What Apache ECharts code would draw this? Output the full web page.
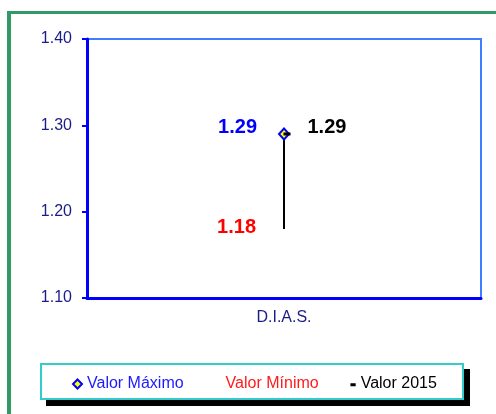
<!DOCTYPE html>
<html>
<head>
<meta charset="utf-8">
<script src="https://cdn.jsdelivr.net/npm/echarts@6/dist/echarts.min.js"></script>
<style>
  html, body { margin: 0; padding: 0; background: #fff; }
  #chart { width: 496px; height: 414px; }
</style>
</head>
<body>
<div id="chart"></div>
<script>
// data
var categories = ['D.I.A.S.'];
var valorMaximo = [1.29];
var valorMinimo = [1.18];
var valor2015 = [1.29];
var yTicks = { min: 1.1, max: 1.4, interval: 0.1 };

var font = "'Liberation Sans', Arial, sans-serif";
var navy = '#1c1c86';
var blue = '#0000ff';

var chart = echarts.init(document.getElementById('chart'));

function pairs(vals) {
    return vals.map(function (v, i) { return [categories[i], v]; });
}
function fmt(p) { return p.value[1].toFixed(2); }

// vertical bar from max to min
var rangeData = [];
categories.forEach(function (c, i) {
    rangeData.push([c, valorMaximo[i]], [c, valorMinimo[i]]);
});

var option = {
    animation: false,
    textStyle: { fontFamily: font },
    graphic: [
        // green frame
        { type: 'rect', shape: { x: 7, y: 11, width: 4, height: 403 }, style: { fill: '#339966' } },
        { type: 'rect', shape: { x: 7, y: 11, width: 489, height: 3 }, style: { fill: '#339966' } },
        // legend box with hard shadow
        { type: 'rect', z: -1, shape: { x: 46, y: 369, width: 424, height: 37 }, style: { fill: '#000' } },
        { type: 'rect', z: -1, shape: { x: 41, y: 364, width: 422, height: 35 }, style: { fill: '#fff', stroke: '#33cccc', lineWidth: 2 } }
    ],
    grid: {
        left: 87, right: 15, top: 39, bottom: 116,
        show: true,
        borderColor: '#3f7fff',
        borderWidth: 2
    },
    legend: {
        left: 72, top: 376,
        padding: 0,
        itemGap: 28,
        itemWidth: 9, itemHeight: 9,
        textStyle: { fontSize: 16, fontFamily: font },
        data: [
            { name: 'Valor Máximo', icon: 'diamond', itemStyle: { color: '#ffff00', borderColor: blue, borderWidth: 2 }, textStyle: { color: '#1a1aff' } },
            { name: 'Valor Mínimo', icon: 'none', textStyle: { color: '#ff1a1a' } },
            { name: 'Valor 2015', icon: 'path://M0,0h0.1v0.1h-0.1Z M5,5H12V9H5Z M11.9,11.9h0.1v0.1h-0.1Z', itemStyle: { color: '#000' }, textStyle: { color: '#000' } }
        ]
    },
    xAxis: {
        type: 'category',
        data: categories,
        axisLine: { lineStyle: { color: blue, width: 3 } },
        axisTick: { length: 5, lineStyle: { color: blue, width: 2 } },
        axisLabel: { color: navy, fontSize: 16, margin: 12 },
        splitLine: { show: false }
    },
    yAxis: {
        type: 'value',
        min: yTicks.min, max: yTicks.max, interval: yTicks.interval,
        axisLine: { show: true, lineStyle: { color: blue, width: 3 } },
        axisTick: { show: true, length: 5, lineStyle: { color: blue, width: 2 } },
        axisLabel: { color: navy, fontSize: 16, margin: 15, formatter: function (v) { return v.toFixed(2); } },
        splitLine: { show: false }
    },
    series: [
        {
            name: 'range',
            type: 'line',
            data: rangeData,
            symbol: 'none',
            lineStyle: { color: '#000', width: 2 },
            silent: true,
            z: 1
        },
        {
            name: 'Valor Máximo',
            type: 'scatter',
            data: pairs(valorMaximo),
            symbol: 'diamond',
            symbolSize: [10, 11],
            itemStyle: { color: '#ffff00', borderColor: blue, borderWidth: 2, opacity: 1 },
            label: {
                show: true, position: 'left', distance: 21, offset: [0, -6],
                color: blue, fontSize: 20, fontWeight: 'bold', formatter: fmt
            },
            z: 3
        },
        {
            name: 'Valor Mínimo',
            type: 'scatter',
            data: pairs(valorMinimo),
            symbolSize: 0,
            itemStyle: { color: '#ff0000', opacity: 1 },
            label: {
                show: true, position: 'left', distance: 28, offset: [0, -1],
                color: '#ff0000', fontSize: 20, fontWeight: 'bold', formatter: fmt
            },
            z: 3
        },
        {
            name: 'Valor 2015',
            type: 'scatter',
            data: pairs(valor2015),
            symbol: 'rect',
            symbolSize: [7, 3],
            symbolOffset: [3, 0],
            itemStyle: { color: '#000', opacity: 1 },
            label: {
                show: true, position: 'right', distance: 17, offset: [0, -6],
                color: '#000', fontSize: 20, fontWeight: 'bold', formatter: fmt
            },
            z: 4
        }
    ]
};

chart.setOption(option);
</script>
</body>
</html>
